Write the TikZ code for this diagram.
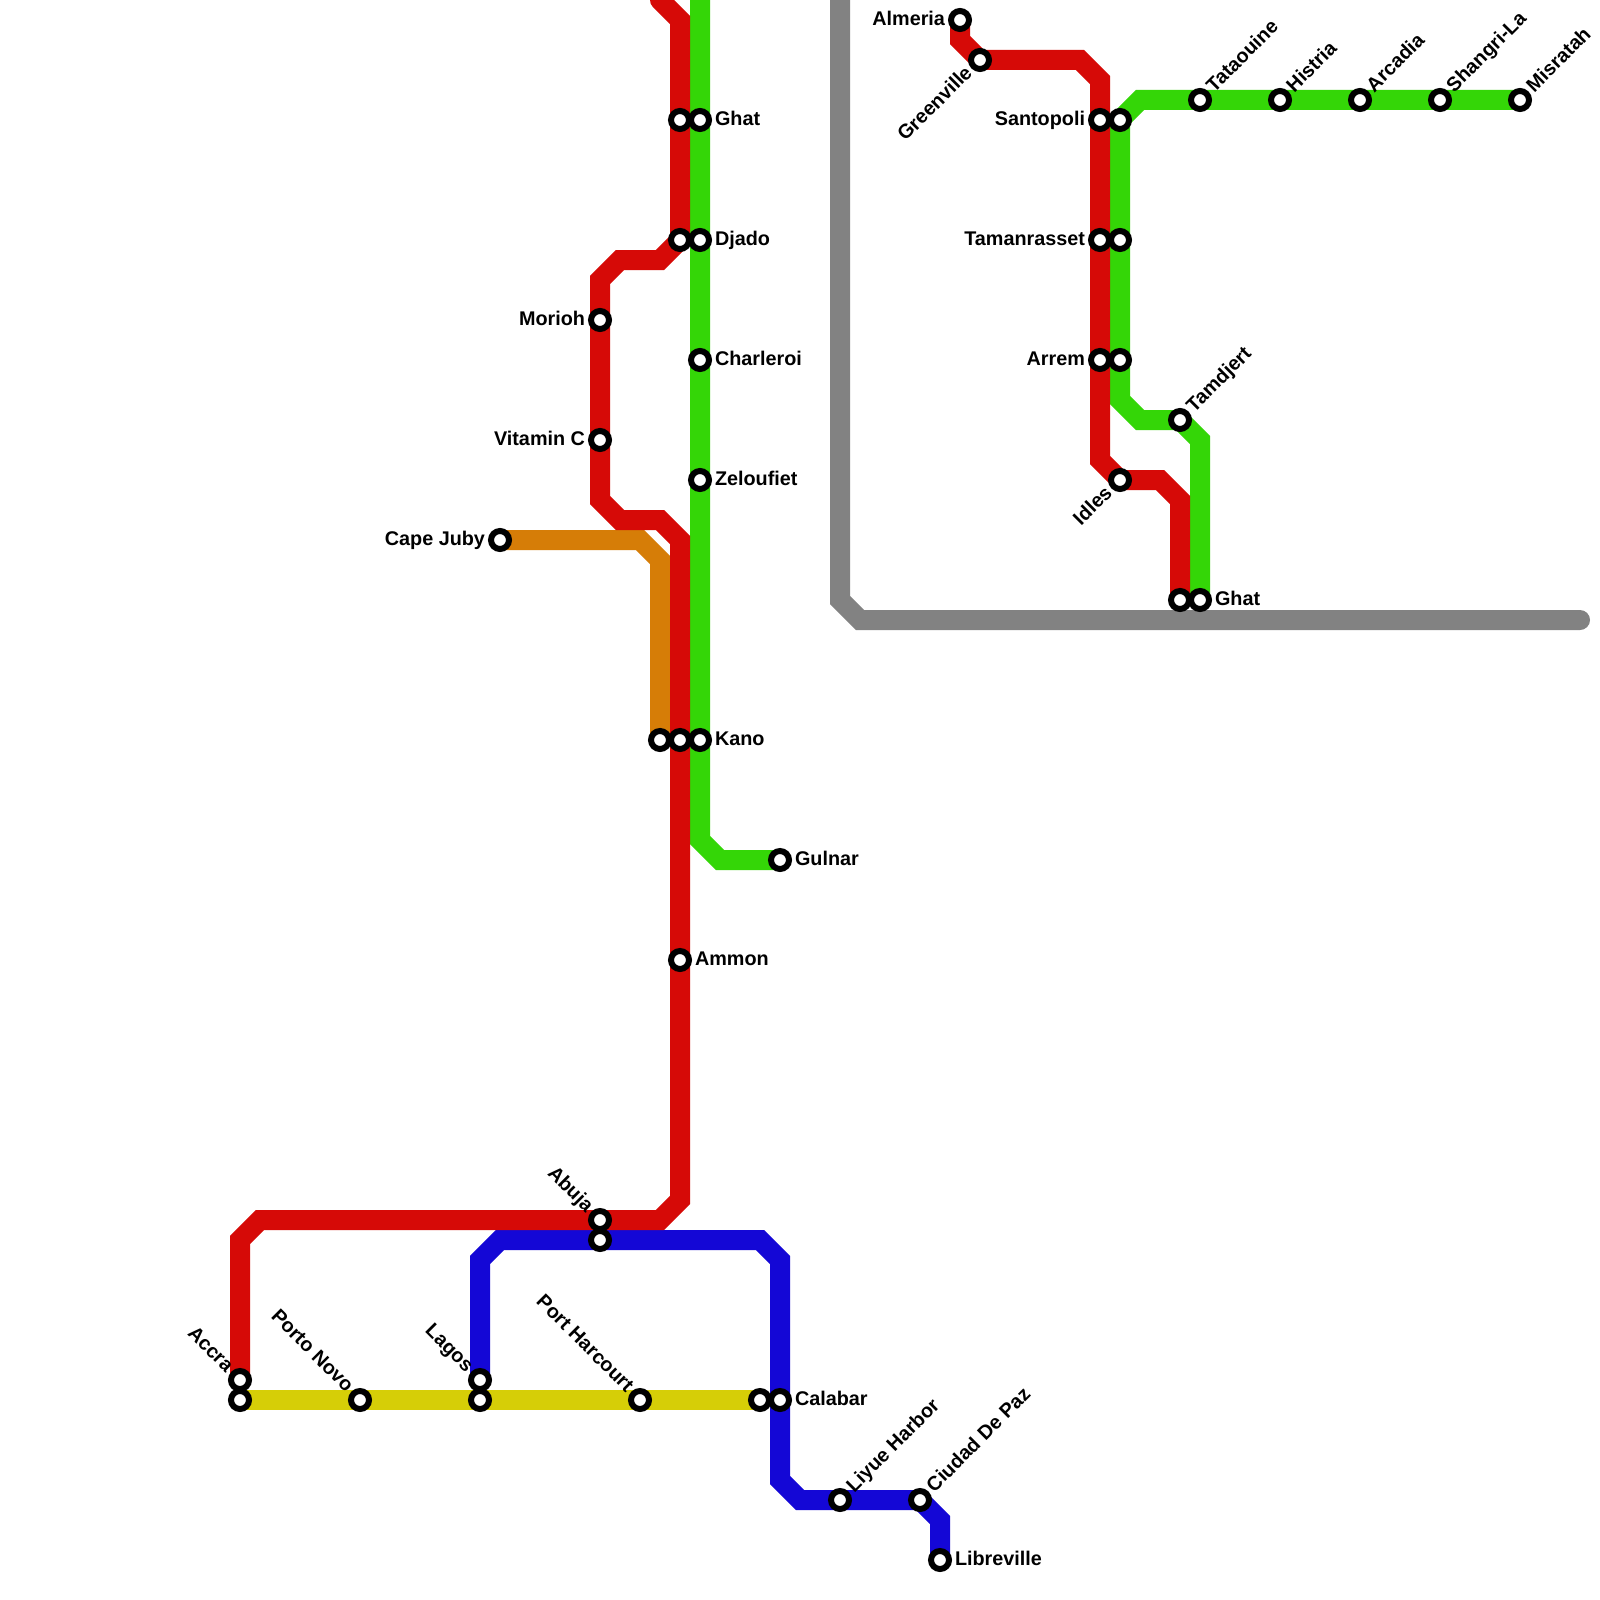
\documentclass[tikz,border=0pt]{standalone}
\usepackage{fontspec}
\setmainfont{Liberation Sans}
\usetikzlibrary{backgrounds}
\definecolor{cRed}{RGB}{214,10,7}
\definecolor{cGreen}{RGB}{52,214,7}
\definecolor{cBlue}{RGB}{20,7,214}
\definecolor{cYellow}{RGB}{214,206,7}
\definecolor{cOrange}{RGB}{214,125,7}
\definecolor{cGray}{RGB}{130,130,130}
\tikzset{
  x=10pt,y=-10pt,
  metro/.style={line width=10pt,line join=miter,line cap=round},
  stn/.style={circle,draw=black,fill=white,line width=3pt,inner sep=0pt,minimum size=9pt},
  lab/.style={inner sep=0pt,outer sep=0pt,font=\fontsize{9.9pt}{11pt}\selectfont\bfseries,text=black},
  lr/.style={lab,anchor=base west,xshift=7.5pt,yshift=-2.6pt},
  ll/.style={lab,anchor=base east,xshift=-7.5pt,yshift=-2.6pt},
  ur/.style={lab,rotate=45,anchor=base west,xshift=7.5pt,yshift=-2.6pt},
  dl/.style={lab,rotate=45,anchor=base east,xshift=-7.5pt,yshift=-2.6pt},
  ul/.style={lab,rotate=-45,anchor=base east,xshift=-7.5pt,yshift=-2.6pt},
}
\newcommand{\stnat}[4]{\node[stn] (#1) at (#2,#3) {};\node[#4] (#1-lab) at (#1.center)}
\newcommand{\stnonly}[3]{\node[stn] (#1) at (#2,#3) {};}
\begin{document}
\begin{tikzpicture}
\useasboundingbox (0,0) rectangle (80,80);
\clip (0,0) rectangle (80,80);
% stations
\stnat{almeria}{48}{1}{ll}{Almeria};
\stnat{greenville}{49}{3}{dl}{Greenville};
\stnat{santopoli}{55}{6}{ll}{Santopoli};
\stnat{taman}{55}{12}{ll}{Tamanrasset};
\stnat{arrem}{55}{18}{ll}{Arrem};
\stnat{idles}{56}{24}{dl}{Idles};
\stnonly{redend}{59}{30}
\stnat{ghatb}{60}{30}{lr}{Ghat};
\stnonly{gsanto}{56}{6}
\stnonly{gtaman}{56}{12}
\stnonly{garrem}{56}{18}
\stnat{tamdjert}{59}{21}{ur}{Tamdjert};
\stnat{tataouine}{60}{5}{ur}{Tataouine};
\stnat{histria}{64}{5}{ur}{Histria};
\stnat{arcadia}{68}{5}{ur}{Arcadia};
\stnat{shangri}{72}{5}{ur}{Shangri-La};
\stnat{misratah}{76}{5}{ur}{Misratah};
\stnonly{rghat}{34}{6}
\stnat{ghata}{35}{6}{lr}{Ghat};
\stnonly{rdjado}{34}{12}
\stnat{djado}{35}{12}{lr}{Djado};
\stnat{charleroi}{35}{18}{lr}{Charleroi};
\stnat{zeloufiet}{35}{24}{lr}{Zeloufiet};
\stnat{morioh}{30}{16}{ll}{Morioh};
\stnat{vitamin}{30}{22}{ll}{Vitamin C};
\stnat{capejuby}{25}{27}{ll}{Cape Juby};
\stnonly{okano}{33}{37}
\stnonly{rkano}{34}{37}
\stnat{kano}{35}{37}{lr}{Kano};
\stnat{gulnar}{39}{43}{lr}{Gulnar};
\stnat{ammon}{34}{48}{lr}{Ammon};
\stnat{abuja}{30}{61}{ul}{Abuja};
\stnonly{babuja}{30}{62}
\stnat{accra}{12}{69}{ul}{Accra};
\stnonly{yaccra}{12}{70}
\stnat{porto}{18}{70}{ul}{Porto Novo};
\stnat{lagos}{24}{69}{ul}{Lagos};
\stnonly{ylagos}{24}{70}
\stnat{harcourt}{32}{70}{ul}{Port Harcourt};
\stnonly{ycalabar}{38}{70}
\stnat{calabar}{39}{70}{lr}{Calabar};
\stnat{liyue}{42}{75}{ur}{Liyue Harbor};
\stnat{ciudad}{46}{75}{ur}{Ciudad De Paz};
\stnat{libreville}{47}{78}{lr}{Libreville};
% free ends
\coordinate (topRed) at (33,0);
\coordinate (topGreen) at (35,-1);
\coordinate (topGray) at (42,-1);
\coordinate (endGray) at (79,31);
\begin{pgfonlayer}{background}
\fill[white] (0,0) rectangle (80,80);
\draw[metro,cGray] (topGray) -- (42,30) -- (43,31) -- (endGray);
\draw[metro,cOrange] (capejuby.center) -- (32,27) -- (33,28) -- (okano.center);
\draw[metro,cYellow] (yaccra.center) -- (porto.center) -- (ylagos.center) -- (harcourt.center) -- (ycalabar.center);
\draw[metro,cBlue] (lagos.center) -- (24,63) -- (25,62) -- (babuja.center) -- (38,62) -- (39,63) -- (calabar.center) -- (39,74) -- (40,75) -- (liyue.center) -- (ciudad.center) -- (47,76) -- (libreville.center);
\draw[metro,cGreen] (topGreen) -- (ghata.center) -- (djado.center) -- (charleroi.center) -- (zeloufiet.center) -- (kano.center) -- (35,42) -- (36,43) -- (gulnar.center);
\draw[metro,cGreen] (misratah.center) -- (shangri.center) -- (arcadia.center) -- (histria.center) -- (tataouine.center) -- (57,5) -- (gsanto.center) -- (gtaman.center) -- (garrem.center) -- (56,20) -- (57,21) -- (tamdjert.center) -- (60,22) -- (ghatb.center);
\draw[metro,cRed] (topRed) -- (34,1) -- (rghat.center) -- (rdjado.center) -- (33,13) -- (31,13) -- (30,14) -- (morioh.center) -- (vitamin.center) -- (30,25) -- (31,26) -- (33,26) -- (34,27) -- (rkano.center) -- (ammon.center) -- (34,60) -- (33,61) -- (abuja.center) -- (13,61) -- (12,62) -- (accra.center);
\draw[metro,cRed] (almeria.center) -- (48,2) -- (greenville.center) -- (54,3) -- (55,4) -- (santopoli.center) -- (taman.center) -- (arrem.center) -- (55,23) -- (idles.center) -- (58,24) -- (59,25) -- (redend.center);
\end{pgfonlayer}
\end{tikzpicture}
\end{document}
